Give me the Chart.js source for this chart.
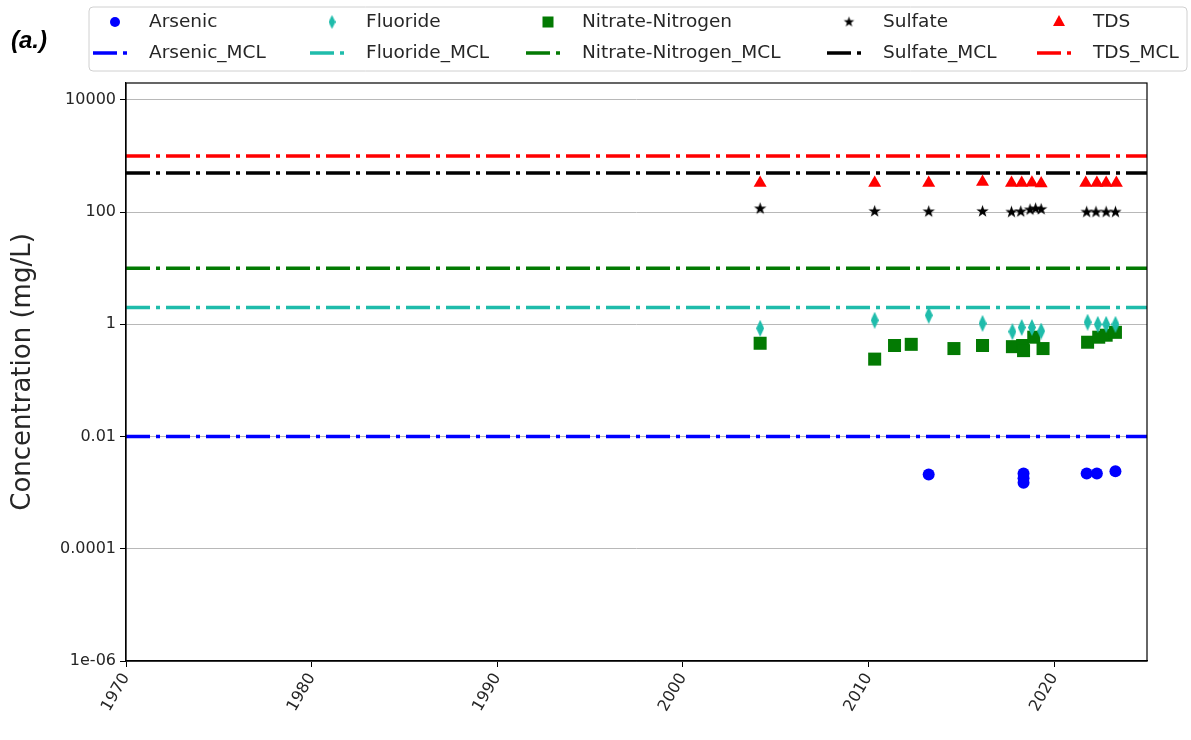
<!DOCTYPE html>
<html><head><meta charset="utf-8">
<script src="https://cdn.jsdelivr.net/npm/chart.js@4.4.1/dist/chart.umd.min.js"></script>
<style>html,body{margin:0;padding:0;background:#fff}#wrap{position:relative;width:1191px;height:740px}</style>
</head><body><div id="wrap"><canvas id="c"></canvas></div>
<script>
// ---- data ----
const xMin = 1970, xMax = 2025;
const yMin = 1e-6, yMax = 2e4;
const xTickYears = [1970, 1980, 1990, 2000, 2010, 2020];
const yTickValues = [1e-6, 1e-4, 1e-2, 1, 100, 10000];
const yTickLabels = ['1e-06', '0.0001', '0.01', '1', '100', '10000'];
const yAxisTitle = 'Concentration (mg/L)';
const panelLabel = '(a.)';

const speciesNames = ['Arsenic', 'Fluoride', 'Nitrate-Nitrogen', 'Sulfate', 'TDS'];
const mclValues = [0.01, 2, 10, 500, 1000];

const arsenicYears  = [2013.24, 2018.35, 2018.35, 2018.35, 2021.75, 2022.3, 2023.3];
const arsenicValues = [0.0021, 0.0022, 0.0018, 0.0015, 0.0022, 0.0022, 0.0024];

const fluorideYears  = [2004.16, 2010.33, 2013.24, 2016.14, 2017.75, 2018.25, 2018.8, 2019.3, 2021.8, 2022.35, 2022.8, 2023.3];
const fluorideValues = [0.85, 1.18, 1.45, 1.04, 0.74, 0.88, 0.88, 0.76, 1.09, 1.0, 1.0, 1.0];

const nitrateYears  = [2004.16, 2010.33, 2011.4, 2012.3, 2014.6, 2016.14, 2017.75, 2018.3, 2018.35, 2018.9, 2019.4, 2021.8, 2022.4, 2022.8, 2023.3];
const nitrateValues = [0.46, 0.24, 0.42, 0.44, 0.37, 0.42, 0.40, 0.42, 0.34, 0.59, 0.37, 0.48, 0.59, 0.64, 0.72];

const sulfateYears  = [2004.16, 2010.33, 2013.24, 2016.14, 2017.7, 2018.2, 2018.7, 2019.0, 2019.3, 2021.75, 2022.25, 2022.8, 2023.3];
const sulfateValues = [115, 103, 102, 103, 100, 102, 110, 115, 112, 100, 100, 100, 100];

const tdsYears  = [2004.16, 2010.33, 2013.24, 2016.14, 2017.7, 2018.25, 2018.8, 2019.3, 2021.7, 2022.3, 2022.8, 2023.35];
const tdsValues = [330, 330, 330, 345, 330, 330, 335, 325, 330, 330, 330, 330];

// ---- styles ----
const colors = ['#0000ff', '#1fbcab', '#037a03', '#000000', '#ff0000'];
const FONT = '"DejaVu Sans", sans-serif';

function makeStar(r, color) {
  const s = Math.ceil(r * 2 + 2), c = document.createElement('canvas');
  c.width = s; c.height = s;
  const g = c.getContext('2d'); g.fillStyle = color; g.beginPath();
  for (let i = 0; i < 10; i++) {
    const rr = i % 2 ? r * 0.4 : r, a = -Math.PI / 2 + i * Math.PI / 5;
    const px = s / 2 + rr * Math.cos(a), py = s / 2 + rr * Math.sin(a);
    i ? g.lineTo(px, py) : g.moveTo(px, py);
  }
  g.closePath(); g.fill(); return c;
}
function makeThinDiamond(w, h, color) {
  const c = document.createElement('canvas');
  c.width = w; c.height = h;
  const g = c.getContext('2d'); g.fillStyle = color; g.beginPath();
  g.moveTo(w / 2, 0); g.lineTo(w, h / 2); g.lineTo(w / 2, h); g.lineTo(0, h / 2); g.closePath(); g.fill();
  return c;
}
const starImg = makeStar(6.5, colors[3]);
const diamondImg = makeThinDiamond(8, 17, colors[1]);
const starImgLeg = makeStar(5.5, colors[3]);
const diamondImgLeg = makeThinDiamond(7, 14, colors[1]);

const pts = (xs, ys) => xs.map((x, i) => ({ x: x, y: ys[i] }));
const seriesYears = [arsenicYears, fluorideYears, nitrateYears, sulfateYears, tdsYears];
const seriesValues = [arsenicValues, fluorideValues, nitrateValues, sulfateValues, tdsValues];
const pointStyles = ['circle', diamondImg, 'rect', starImg, 'triangle'];
const pointRadii = [6, 8, 9.2, 7, 7.5];
const DASH = [24, 6, 4, 6];

const datasets = [];
speciesNames.forEach((n, i) => {
  datasets.push({
    label: n, data: pts(seriesYears[i], seriesValues[i]), showLine: false,
    pointStyle: pointStyles[i], pointRadius: pointRadii[i], pointHoverRadius: pointRadii[i],
    backgroundColor: colors[i], borderColor: colors[i], pointBorderWidth: 0, borderWidth: 0
  });
});
speciesNames.forEach((n, i) => {
  datasets.push({
    label: n + '_MCL', data: pts([xMin, xMax], [mclValues[i], mclValues[i]]), showLine: true,
    pointRadius: 0, borderColor: colors[i], backgroundColor: colors[i], borderWidth: 3.5,
    borderDash: DASH, borderCapStyle: 'butt'
  });
});

// ---- custom legend (matplotlib style) + frame + panel label ----
const legendTextX = [149, 366, 582, 883, 1093];
const legendPlugin = {
  id: 'mplLegend',
  afterDraw(chart) {
    const ctx = chart.ctx, a = chart.chartArea;
    ctx.save();
    // frame
    ctx.strokeStyle = '#000'; ctx.lineWidth = 1.2;
    ctx.strokeRect(a.left, a.top, a.right - a.left, a.bottom - a.top);
    // panel label
    ctx.fillStyle = '#000'; ctx.font = 'bold italic 24px "Liberation Sans", sans-serif';
    ctx.textBaseline = 'middle'; ctx.textAlign = 'left';
    ctx.fillText(panelLabel, 11, 41);
    // legend box
    const bx = 89, by = 7, bw = 1098, bh = 64, rr = 4;
    ctx.beginPath();
    ctx.moveTo(bx + rr, by); ctx.lineTo(bx + bw - rr, by); ctx.quadraticCurveTo(bx + bw, by, bx + bw, by + rr);
    ctx.lineTo(bx + bw, by + bh - rr); ctx.quadraticCurveTo(bx + bw, by + bh, bx + bw - rr, by + bh);
    ctx.lineTo(bx + rr, by + bh); ctx.quadraticCurveTo(bx, by + bh, bx, by + bh - rr);
    ctx.lineTo(bx, by + rr); ctx.quadraticCurveTo(bx, by, bx + rr, by); ctx.closePath();
    ctx.fillStyle = 'rgba(255,255,255,0.8)'; ctx.fill();
    ctx.strokeStyle = '#d0d0d0'; ctx.lineWidth = 1; ctx.stroke();
    const row1 = 22, row2 = 53;
    ctx.font = '18.5px ' + FONT; ctx.textBaseline = 'middle';
    speciesNames.forEach((n, i) => {
      const tx = legendTextX[i], mx = tx - 34, hx = tx - 56;
      const col = colors[i];
      ctx.fillStyle = col;
      if (i === 0) { ctx.beginPath(); ctx.arc(mx, row1, 5, 0, Math.PI * 2); ctx.fill(); }
      else if (i === 1) { ctx.drawImage(diamondImgLeg, mx - diamondImgLeg.width / 2, row1 - diamondImgLeg.height / 2); }
      else if (i === 2) { ctx.fillRect(mx - 5.5, row1 - 5.5, 11, 11); }
      else if (i === 3) { ctx.drawImage(starImgLeg, mx - starImgLeg.width / 2, row1 - starImgLeg.height / 2); }
      else { ctx.beginPath(); ctx.moveTo(mx, row1 - 7); ctx.lineTo(mx + 6, row1 + 4); ctx.lineTo(mx - 6, row1 + 4); ctx.closePath(); ctx.fill(); }
      ctx.strokeStyle = col; ctx.lineWidth = 3.5; ctx.setLineDash(DASH); ctx.lineCap = 'butt';
      ctx.beginPath(); ctx.moveTo(hx, row2); ctx.lineTo(hx + 35, row2); ctx.stroke();
      ctx.setLineDash([]);
      ctx.fillStyle = '#262626';
      ctx.fillText(n, tx, row1);
      ctx.fillText(n + '_MCL', tx, row2);
    });
    ctx.restore();
  }
};

new Chart(document.getElementById('c'), {
  type: 'scatter',
  data: { datasets: datasets },
  plugins: [legendPlugin],
  options: {
    responsive: true, maintainAspectRatio: false, animation: false,
    layout: { padding: { left: 0, top: 83, right: 44, bottom: 0 } },
    plugins: { legend: { display: false }, tooltip: { enabled: false } },
    scales: {
      x: {
        type: 'linear', min: xMin, max: xMax,
        afterBuildTicks: s => { s.ticks = xTickYears.map(v => ({ value: v })); },
        afterFit: s => { s.height = 79; },
        grid: { display: true, drawOnChartArea: false, drawTicks: true, tickLength: 6, tickColor: '#000', tickWidth: 1 },
        border: { display: true, color: '#000', width: 1.2 },
        ticks: { minRotation: 60, maxRotation: 60, autoSkip: false, padding: 3, color: '#262626',
          font: { family: FONT, size: 16 }, callback: v => String(v) }
      },
      y: {
        type: 'logarithmic', min: yMin, max: yMax,
        afterBuildTicks: s => { s.ticks = yTickValues.map(v => ({ value: v })); },
        afterFit: s => { s.width = 126; },
        grid: { display: true, drawOnChartArea: true, drawTicks: true, tickLength: 6, color: '#b8b8b8', lineWidth: 1, tickColor: '#000', tickWidth: 1 },
        border: { display: true, color: '#000', width: 1.2 },
        ticks: { padding: 4, color: '#262626', font: { family: FONT, size: 16 },
          callback: (v, i) => yTickLabels[i] },
        title: { display: true, text: yAxisTitle, color: '#262626', font: { family: FONT, size: 26 }, padding: { top: 8, bottom: 0 } }
      }
    }
  }
});
</script></body></html>
